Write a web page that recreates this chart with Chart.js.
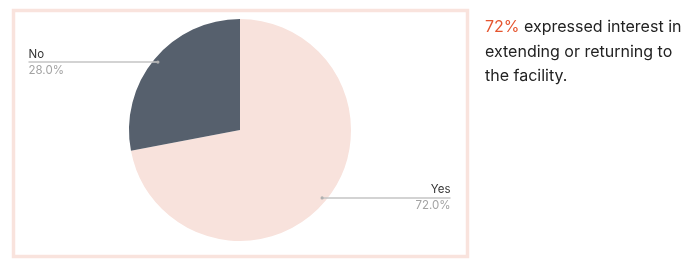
<!DOCTYPE html>
<html>
<head>
<meta charset="utf-8">
<script src="https://cdn.jsdelivr.net/npm/chart.js@4/dist/chart.umd.min.js"></script>
<style>
html,body{margin:0;padding:0;background:#fff;}
#wrap{position:relative;width:698px;height:267px;}
canvas{display:block;}
</style>
</head>
<body>
<div id="wrap"><canvas id="c" width="698" height="267"></canvas></div>
<script>
const categories = ['Yes', 'No'];
const values = [72, 28];
const sliceColors = ['#f8e2dc', '#56606d'];
const headline = '72%';
const noteLines = [' expressed interest in', 'extending or returning to', 'the facility.'];

const FONT = 'Inter, "DejaVu Sans", sans-serif';

const frame = {x: 13.5, y: 10.5, w: 454, h: 246};

const framePlugin = {
  id: 'frame',
  beforeDraw(chart) {
    const ctx = chart.ctx;
    ctx.save();
    ctx.strokeStyle = '#f9e3dd';
    ctx.lineWidth = 3.5;
    ctx.strokeRect(frame.x, frame.y, frame.w, frame.h);
    ctx.restore();
  }
};

const leaderPlugin = {
  id: 'leaders',
  afterDraw(chart) {
    const ctx = chart.ctx;
    const meta = chart.getDatasetMeta(0);
    const total = values.reduce((a, b) => a + b, 0);
    meta.data.forEach((arc, i) => {
      const p = arc.getProps(['x', 'y', 'startAngle', 'endAngle', 'outerRadius'], true);
      const mid = (p.startAngle + p.endAngle) / 2;
      const r = p.outerRadius * 0.96;
      const ax = p.x + Math.cos(mid) * r;
      const ay = p.y + Math.sin(mid) * r;
      const left = Math.cos(mid) < 0;
      const ex = left ? frame.x + 15 : frame.x + frame.w - 17;
      ctx.save();
      ctx.strokeStyle = '#c4c4c4';
      ctx.lineWidth = 1.5;
      ctx.beginPath();
      ctx.moveTo(ax, ay);
      ctx.lineTo(ex, ay);
      ctx.stroke();
      ctx.fillStyle = '#b0b0b0';
      ctx.beginPath();
      ctx.arc(ax, ay, 1.6, 0, Math.PI * 2);
      ctx.fill();
      ctx.textAlign = left ? 'left' : 'right';
      ctx.textBaseline = 'alphabetic';
      ctx.font = '11.5px ' + FONT;
      ctx.fillStyle = '#333333';
      ctx.fillText(categories[i], ex, ay - 4.5);
      ctx.fillStyle = '#a3a3a3';
      ctx.fillText((values[i] / total * 100).toFixed(1) + '%', ex, ay + 11.5);
      ctx.restore();
    });
  }
};

const notePlugin = {
  id: 'note',
  afterDraw(chart) {
    const ctx = chart.ctx;
    ctx.save();
    ctx.font = '16px ' + FONT;
    ctx.textBaseline = 'alphabetic';
    ctx.textAlign = 'left';
    const x0 = 485;
    let y = 32;
    ctx.fillStyle = '#e5552f';
    ctx.fillText(headline, x0, y);
    const w = ctx.measureText(headline).width;
    ctx.fillStyle = '#222222';
    ctx.fillText(noteLines[0], x0 + w, y);
    for (let k = 1; k < noteLines.length; k++) {
      y += 24.7;
      ctx.fillText(noteLines[k], x0, y);
    }
    ctx.restore();
  }
};

new Chart(document.getElementById('c'), {
  type: 'pie',
  data: {
    labels: categories,
    datasets: [{
      data: values,
      backgroundColor: sliceColors,
      borderWidth: 0
    }]
  },
  options: {
    responsive: false,
    animation: false,
    layout: {padding: {left: 129, right: 347, top: 19, bottom: 26}},
    plugins: {legend: {display: false}, tooltip: {enabled: false}}
  },
  plugins: [framePlugin, leaderPlugin, notePlugin]
});
</script>
</body>
</html>
